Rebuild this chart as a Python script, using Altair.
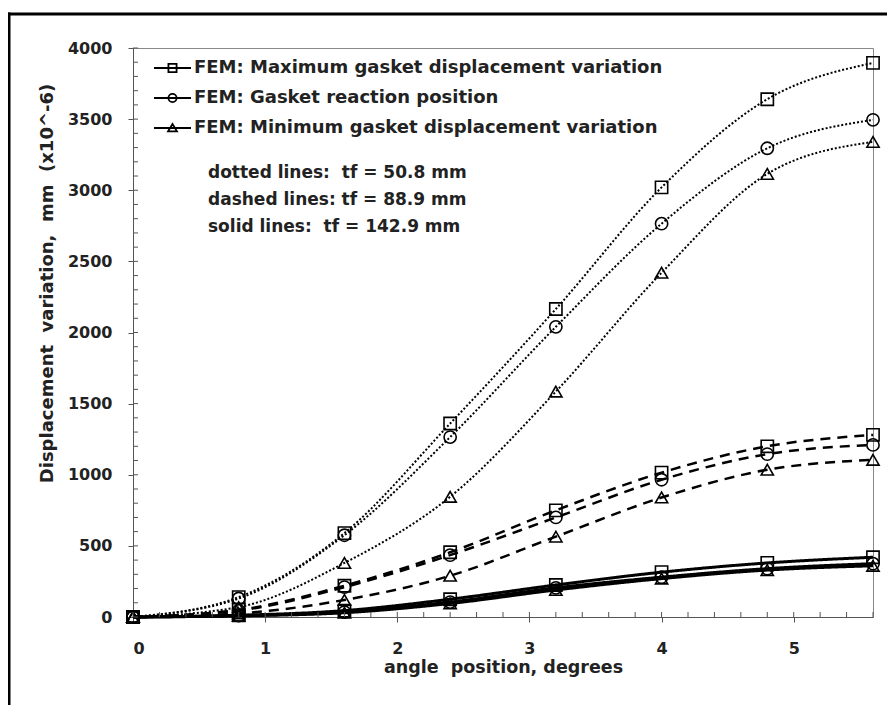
import altair as alt
import pandas as pd

# ---------------- data ----------------
angles = [0, 0.8, 1.6, 2.4, 3.2, 4.0, 4.8, 5.6]
components = [
    "FEM: Maximum gasket displacement variation",
    "FEM: Gasket reaction position",
    "FEM: Minimum gasket displacement variation",
]
styles = ["dotted", "dashed", "solid"]

# tf = 50.8 mm (dotted)
dotted_max = [0, 140, 590, 1360, 2165, 3020, 3640, 3895]
dotted_reac = [0, 130, 575, 1265, 2040, 2765, 3295, 3495]
dotted_min = [0, 70, 380, 845, 1585, 2420, 3115, 3340]
# tf = 88.9 mm (dashed)
dashed_max = [0, 50, 220, 455, 750, 1015, 1200, 1280]
dashed_reac = [0, 45, 210, 435, 700, 965, 1145, 1210]
dashed_min = [0, 25, 120, 290, 565, 840, 1035, 1105]
# tf = 142.9 mm (solid)
solid_max = [0, 12, 45, 125, 225, 315, 380, 420]
solid_reac = [0, 10, 35, 105, 205, 280, 340, 375]
solid_min = [0, 8, 30, 95, 190, 270, 330, 360]

note_lines = [
    "dotted lines:\u00a0 tf = 50.8 mm",
    "dashed lines: tf = 88.9 mm",
    "solid lines:\u00a0 tf = 142.9 mm",
]

x_tick_values = [round(i * 0.2, 1) for i in range(0, 29)]
y_tick_values = list(range(0, 4001, 100))

series = {
    ("dotted", components[0]): dotted_max,
    ("dotted", components[1]): dotted_reac,
    ("dotted", components[2]): dotted_min,
    ("dashed", components[0]): dashed_max,
    ("dashed", components[1]): dashed_reac,
    ("dashed", components[2]): dashed_min,
    ("solid", components[0]): solid_max,
    ("solid", components[1]): solid_reac,
    ("solid", components[2]): solid_min,
}
rows = []
for (style, comp), vals in series.items():
    for a, v in zip(angles, vals):
        rows.append({"angle": a, "disp": v, "style": style, "component": comp,
                     "series": style + "|" + comp})
df = pd.DataFrame(rows)

FONT = "DejaVu Sans"
TXT = "#222222"

legend_paths = [
    "M-1,0H1M-0.22,-0.22H0.22V0.22H-0.22Z",
    "M-1,0H1M-0.22,0A0.22,0.22,0,1,0,0.22,0A0.22,0.22,0,1,0,-0.22,0Z",
    "M-1,0H1M0,-0.22L0.24,0.18H-0.24Z",
]

x_axis = alt.Axis(
    values=[0, 1, 2, 3, 4, 5], format="d", title="angle\u00a0 position, degrees",
    labelFont=FONT, labelFontSize=16, labelFontWeight="bold", labelColor=TXT,
    labelPadding=18, tickSize=5, tickColor="#555", domainColor="#555",
    titleFont=FONT, titleFontSize=17.5, titleFontWeight="bold", titleColor=TXT,
    titlePadding=2, grid=False,
)
y_axis = alt.Axis(
    values=list(range(0, 4001, 500)), format="d",
    title="Displacement\u00a0 variation,\u00a0 mm\u00a0 (x10^-6)",
    labelFont=FONT, labelFontSize=16, labelFontWeight="bold", labelColor=TXT,
    labelPadding=16, tickSize=5, tickColor="#555", domainColor="#555",
    titleFont=FONT, titleFontSize=18, titleFontWeight="bold", titleColor=TXT,
    titleAngle=270, titleX=-86, titleY=235, titleAlign="center", titleBaseline="middle",
    grid=False,
)

xs = alt.X("angle:Q", scale=alt.Scale(domain=[0, 5.6], nice=False, zero=False), axis=x_axis)
ys = alt.Y("disp:Q", scale=alt.Scale(domain=[0, 4000], nice=False), axis=y_axis)

base = alt.Chart(df)

lines = base.mark_line(interpolate="monotone", color="black").encode(
    x=xs, y=ys, detail="series:N",
    strokeDash=alt.StrokeDash("style:N", scale=alt.Scale(domain=styles, range=[[2, 2], [10, 7], [1, 0]]), legend=None),
    strokeWidth=alt.StrokeWidth("style:N", scale=alt.Scale(domain=styles, range=[2, 3, 2.6]), legend=None),
)

points = base.mark_point(color="black", filled=False, size=150, strokeWidth=1.6, opacity=1).encode(
    x=xs, y=ys,
    shape=alt.Shape("component:N", scale=alt.Scale(domain=components, range=["square", "circle", "triangle-up"]), legend=None),
)

legend_layer = base.mark_point(color="black", filled=False, opacity=0).encode(
    x=xs, y=ys,
    shape=alt.Shape(
        "component:N",
        scale=alt.Scale(domain=components, range=legend_paths),
        legend=alt.Legend(
            title=None, orient="none", legendX=20, legendY=5, padding=0,
            symbolSize=1369, symbolOpacity=1, symbolStrokeColor="black", symbolStrokeWidth=1.8,
            symbolFillColor="transparent", labelFont=FONT, labelFontSize=18, labelFontWeight="bold",
            labelColor=TXT, labelOffset=2, clipHeight=30, rowPadding=0, labelLimit=700,
        ),
    ),
)

xt = alt.Chart(pd.DataFrame({"angle": x_tick_values})).mark_rule(color="#555", strokeWidth=1).encode(
    x=xs, y=alt.value(569), y2=alt.value(564)
)
yt = alt.Chart(pd.DataFrame({"disp": y_tick_values})).mark_rule(color="#555", strokeWidth=1).encode(
    y=ys, x=alt.value(0), x2=alt.value(5)
)

one = pd.DataFrame({"k": [0]})
notes = alt.Chart(one).mark_text(
    align="left", baseline="middle", font=FONT, fontSize=17, fontWeight="bold", color=TXT, lineHeight=27
).encode(x=alt.value(75), y=alt.value(125), text=alt.value(note_lines))

frame_left = alt.Chart(one).mark_rule(color="black", strokeWidth=3).encode(
    x=alt.value(-124), y=alt.value(-35.5), y2=alt.value(720)
)
frame_top = alt.Chart(one).mark_rule(color="black", strokeWidth=3).encode(
    x=alt.value(-125.5), x2=alt.value(900), y=alt.value(-34)
)

chart = (
    alt.layer(frame_left, frame_top, lines, points, legend_layer, xt, yt, notes)
    .resolve_scale(shape="independent")
    .properties(
        width=740, height=569,
        padding={"left": 125, "top": 40, "right": 14, "bottom": 88},
        autosize=alt.AutoSizeParams(type="none"),
        background="white",
    )
    .configure_view(stroke="#888", strokeWidth=1)
)

chart.save("out.html", embed_options={"renderer": "svg", "actions": False})
